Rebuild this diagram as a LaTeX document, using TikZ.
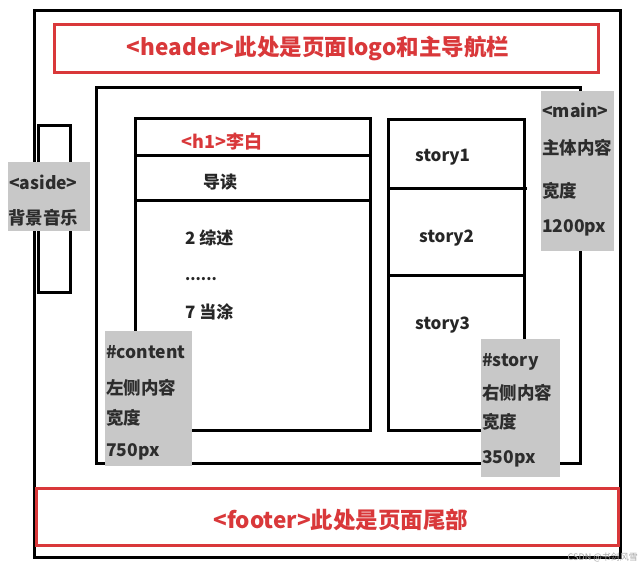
\documentclass[tikz,border=0pt]{standalone}
\usepackage{fontspec}
\setmainfont{Noto Sans CJK SC}
\definecolor{boxred}{RGB}{217,56,58}
\definecolor{labgray}{RGB}{200,200,200}
\definecolor{labtext}{RGB}{45,45,45}
\tikzset{
  blackbox/.style={draw=black, line width=3pt},
  redbox/.style={draw=boxred, line width=3pt},
  graylab/.style={fill=labgray, draw=none},
  redtxt/.style={text=boxred, font=\fontsize{22.5}{24}\selectfont\bfseries, inner sep=0pt},
  bodytxt/.style={text=black!85, font=\fontsize{17}{19}\selectfont\bfseries, inner sep=0pt, anchor=west},
  labtxt/.style={text=labtext, font=\fontsize{17.5}{19}\selectfont\bfseries, inner sep=0pt, anchor=west},
}
\begin{document}
\begin{tikzpicture}[x=1pt,y=-1pt]
\useasboundingbox[fill=white] (0,0) rectangle (640,568);
% outer page
\draw[blackbox] (34,10) rectangle (620,557);
% header
\draw[redbox] (54,24) rectangle (598,72);
\node[redtxt] (header) at (318,48) {<header>此处是页面logo和主导航栏};
% main
\draw[blackbox] (96,87) rectangle (580,463);
% aside
\draw[blackbox] (38,125) rectangle (70,292);
% content
\draw[blackbox] (135,118) rectangle (370,430);
\draw[blackbox] (135,155) -- (370,155);
\draw[blackbox] (135,200) -- (370,200);
% story
\draw[blackbox] (388,119) rectangle (524,430);
\draw[blackbox] (388,188) -- (527,188);
\draw[blackbox] (388,275) -- (524,275);
% footer
\draw[redbox] (36,488) rectangle (618,545);
\node[redtxt] (footer) at (341,520) {<footer>此处是页面尾部};
% content texts
\node[text=boxred, font=\fontsize{18}{20}\selectfont\bfseries, inner sep=0pt] (h1) at (222,142) {<h1>李白};
\node[bodytxt] (daodu) at (203,182) {导读};
\node[bodytxt] (zongshu) at (185,238) {2 综述};
\node[bodytxt, font=\fontsize{15}{17}\selectfont\bfseries] (dots) at (185,279) {......};
\node[bodytxt] (dangtu) at (185,312) {7 当涂};
% story texts
\node[bodytxt] (s1) at (415,157) {story1};
\node[bodytxt] (s2) at (419,238) {story2};
\node[bodytxt] (s3) at (415,325) {story3};
% gray labels
\fill[graylab] (8,162) rectangle (90,231);
\node[labtxt] (asideA) at (9,182) {<aside>};
\node[labtxt] (asideB) at (8,218) {背景音乐};
\fill[graylab] (541,91) rectangle (614,251);
\node[labtxt] (mainA) at (542,110) {<main>};
\node[labtxt] (mainB) at (542,148) {主体内容};
\node[labtxt] (mainC) at (542,191) {宽度};
\node[labtxt] (mainD) at (542,228) {1200px};
\fill[graylab] (105,331) rectangle (192,466);
\node[labtxt] (contA) at (106,352) {\#content};
\node[labtxt] (contB) at (106,388) {左侧内容};
\node[labtxt] (contC) at (106,418) {宽度};
\node[labtxt] (contD) at (106,452) {750px};
\fill[graylab] (481,339) rectangle (560,477);
\node[labtxt] (storyA) at (482,362) {\#story};
\node[labtxt] (storyB) at (482,393) {右侧内容};
\node[labtxt] (storyC) at (482,422) {宽度};
\node[labtxt] (storyD) at (482,459) {350px};
% watermark
\node[text=black!35, font=\fontsize{9}{10}\selectfont, inner sep=0pt, anchor=east] (wm) at (638,557) {CSDN @书剑风雪};
\end{tikzpicture}
\end{document}
